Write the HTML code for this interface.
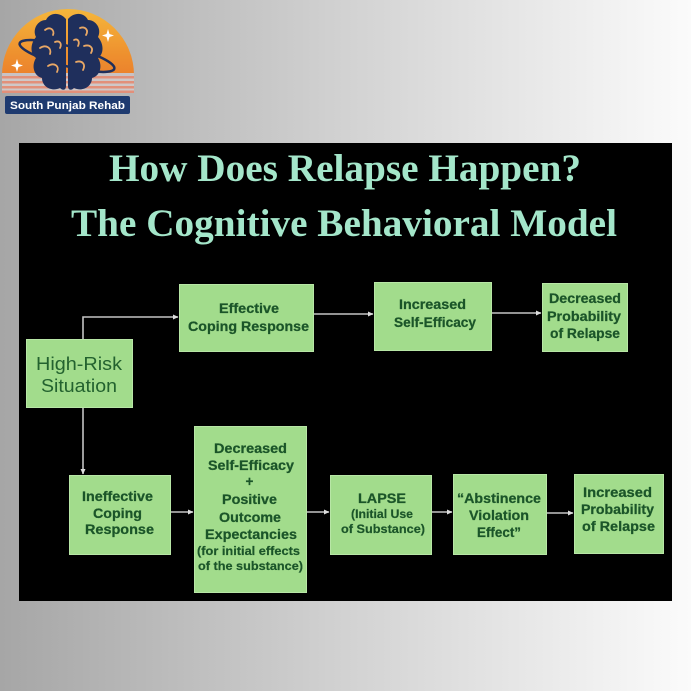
<!DOCTYPE html>
<html>
<head>
<meta charset="utf-8">
<style>
  html,body{margin:0;padding:0;width:691px;height:691px;overflow:hidden;}
  svg{display:block;}
  .t{font-family:"Liberation Serif",serif;font-weight:bold;fill:#a4e6ca;font-size:39px;}
  .b{font-family:"Liberation Sans",sans-serif;font-weight:bold;fill:#1b5529;stroke:#1b5529;stroke-width:0.25;font-size:13.5px;text-anchor:middle;}
  .s{font-family:"Liberation Sans",sans-serif;font-weight:bold;fill:#1b5529;stroke:#1b5529;stroke-width:0.2;font-size:12px;text-anchor:middle;}
  .r{font-family:"Liberation Sans",sans-serif;fill:#23622f;font-size:18.5px;text-anchor:middle;}
  .box{fill:#a2dc8c;stroke:#b8e6a6;stroke-width:1;}
  .ln{stroke:#c4c4c4;stroke-width:1.6;fill:none;}
</style>
</head>
<body>
<svg width="691" height="691" viewBox="0 0 691 691" xmlns="http://www.w3.org/2000/svg">
  <defs>
    <linearGradient id="bg" x1="0" y1="0" x2="1" y2="0">
      <stop offset="0" stop-color="#a6a6a6"/>
      <stop offset="0.5" stop-color="#d2d2d2"/>
      <stop offset="1" stop-color="#fbfbfb"/>
    </linearGradient>
    <linearGradient id="dome" x1="0" y1="0" x2="0" y2="1">
      <stop offset="0" stop-color="#f6be3e"/>
      <stop offset="0.6" stop-color="#ee8f2e"/>
      <stop offset="1" stop-color="#e8752c"/>
    </linearGradient>
    <clipPath id="domeclip">
      <path d="M2,93 L2,75 A66,66 0 0 1 134,75 L134,93 Z"/>
    </clipPath>
    <marker id="ah" markerWidth="6" markerHeight="6" refX="5" refY="3" orient="auto" markerUnits="userSpaceOnUse">
      <path d="M0,0.5 L5.5,3 L0,5.5 Z" fill="#dcdcdc"/>
    </marker>
  </defs>

  <rect x="0" y="0" width="691" height="691" fill="url(#bg)"/>

  <!-- Logo -->
  <g clip-path="url(#domeclip)">
    <rect x="0" y="0" width="140" height="93" fill="url(#dome)"/>
    <rect x="0" y="73" width="140" height="3" fill="#c9c2c4"/>
    <rect x="0" y="76" width="140" height="2.5" fill="#e2907a"/>
    <rect x="0" y="78.5" width="140" height="2.5" fill="#cfc8c8"/>
    <rect x="0" y="81" width="140" height="2.5" fill="#e2907a"/>
    <rect x="0" y="83.5" width="140" height="2.5" fill="#cfc8c8"/>
    <rect x="0" y="86" width="140" height="2.5" fill="#e2907a"/>
    <rect x="0" y="88.5" width="140" height="2" fill="#cfc8c8"/>
    <rect x="0" y="90.5" width="140" height="2.5" fill="#e2907a"/>
  </g>
  <ellipse cx="67" cy="56" rx="49" ry="10" transform="rotate(15 67 56)" fill="none" stroke="#1f2f5c" stroke-width="2.5"/>
  <path d="M66,19 C60,12 50,12 46,20 C38,20 32,29 36,37 C30,44 30,54 36,58 C31,66 34,76 42,78 C42,87 52,92 60,88 C63,91 66,90 66,86 Z" fill="#1f2f5c"/>
  <path d="M68,19 C74,12 84,12 88,20 C96,20 102,29 98,37 C104,44 104,54 98,58 C103,66 100,76 92,78 C92,87 82,92 74,88 C71,91 68,90 68,86 Z" fill="#1f2f5c"/>
  <g fill="none" stroke="#e9a866" stroke-width="1.8" stroke-linecap="round">
    <path d="M45,30 C50,26 55,30 53,35"/>
    <path d="M40,48 C46,44 52,48 50,54"/>
    <path d="M48,66 C54,62 60,66 57,72"/>
    <path d="M55,42 C60,40 62,44 60,48"/>
    <path d="M80,28 C85,26 89,30 86,35"/>
    <path d="M84,46 C90,44 94,48 91,53"/>
    <path d="M76,62 C82,60 86,64 83,70"/>
    <path d="M74,40 C78,38 80,42 78,46"/>
  </g>
  <path d="M108,29 L109.5,34 L114,35.5 L109.5,37 L108,42 L106.5,37 L102,35.5 L106.5,34 Z" fill="#ffffff"/>
  <path d="M17,59 L18.5,64 L23,65.5 L18.5,67 L17,72 L15.5,67 L11,65.5 L15.5,64 Z" fill="#ffffff"/>
  <rect x="5" y="96" width="125" height="18" rx="2" fill="#1f3b70"/>
  <text x="67.5" y="109" text-anchor="middle" font-family="Liberation Sans, sans-serif" font-weight="bold" font-size="11" fill="#ffffff" textLength="115" lengthAdjust="spacingAndGlyphs">South Punjab Rehab</text>

  <!-- Panel -->
  <rect x="19" y="143" width="653" height="458" fill="#000"/>

  <text class="t" x="345" y="181" text-anchor="middle" textLength="472" lengthAdjust="spacingAndGlyphs">How Does Relapse Happen?</text>
  <text class="t" x="344" y="236" text-anchor="middle" textLength="546" lengthAdjust="spacingAndGlyphs">The Cognitive Behavioral Model</text>

  <!-- Connectors -->
  <path class="ln" d="M83,339 L83,317 L178,317" marker-end="url(#ah)"/>
  <path class="ln" d="M314,314 L373,314" marker-end="url(#ah)"/>
  <path class="ln" d="M492,313 L541,313" marker-end="url(#ah)"/>
  <path class="ln" d="M83,408 L83,474" marker-end="url(#ah)"/>
  <path class="ln" d="M171,512 L193,512" marker-end="url(#ah)"/>
  <path class="ln" d="M307,512 L329,512" marker-end="url(#ah)"/>
  <path class="ln" d="M432,512 L452,512" marker-end="url(#ah)"/>
  <path class="ln" d="M547,513 L573,513" marker-end="url(#ah)"/>

  <!-- Boxes -->
  <rect class="box" x="179.5" y="284.5" width="134" height="67"/>
  <rect class="box" x="374.5" y="282.5" width="117" height="68"/>
  <rect class="box" x="542.5" y="283.5" width="85" height="68"/>
  <rect class="box" x="26.5" y="339.5" width="106" height="68"/>
  <rect class="box" x="69.5" y="475.5" width="101" height="79"/>
  <rect class="box" x="194.5" y="426.5" width="112" height="166"/>
  <rect class="box" x="330.5" y="475.5" width="101" height="79"/>
  <rect class="box" x="453.5" y="474.5" width="93" height="80"/>
  <rect class="box" x="574.5" y="474.5" width="89" height="79"/>

  <!-- Box text -->
  <text class="b" x="249" y="313" textLength="60" lengthAdjust="spacingAndGlyphs">Effective</text>
  <text class="b" x="248.5" y="331" textLength="121" lengthAdjust="spacingAndGlyphs">Coping Response</text>

  <text class="b" x="432.5" y="309" textLength="67" lengthAdjust="spacingAndGlyphs">Increased</text>
  <text class="b" x="435" y="327" textLength="82" lengthAdjust="spacingAndGlyphs">Self-Efficacy</text>

  <text class="b" x="585" y="303" textLength="72" lengthAdjust="spacingAndGlyphs">Decreased</text>
  <text class="b" x="584" y="321" textLength="74" lengthAdjust="spacingAndGlyphs">Probability</text>
  <text class="b" x="585" y="338" textLength="70" lengthAdjust="spacingAndGlyphs">of Relapse</text>

  <text class="r" x="79" y="370" textLength="86" lengthAdjust="spacingAndGlyphs">High-Risk</text>
  <text class="r" x="79" y="392" textLength="76" lengthAdjust="spacingAndGlyphs">Situation</text>

  <text class="b" x="117.5" y="501" textLength="71" lengthAdjust="spacingAndGlyphs">Ineffective</text>
  <text class="b" x="117.5" y="518" textLength="49" lengthAdjust="spacingAndGlyphs">Coping</text>
  <text class="b" x="119.5" y="534" textLength="69" lengthAdjust="spacingAndGlyphs">Response</text>

  <text class="b" x="250.5" y="453" textLength="73" lengthAdjust="spacingAndGlyphs">Decreased</text>
  <text class="b" x="251" y="470" textLength="86" lengthAdjust="spacingAndGlyphs">Self-Efficacy</text>
  <text class="b" x="249.5" y="486">+</text>
  <text class="b" x="249.5" y="504" textLength="55" lengthAdjust="spacingAndGlyphs">Positive</text>
  <text class="b" x="250" y="522" textLength="62" lengthAdjust="spacingAndGlyphs">Outcome</text>
  <text class="b" x="251" y="539" textLength="92" lengthAdjust="spacingAndGlyphs">Expectancies</text>
  <text class="s" x="248.5" y="555" textLength="103" lengthAdjust="spacingAndGlyphs">(for initial effects</text>
  <text class="s" x="250.5" y="570" textLength="105" lengthAdjust="spacingAndGlyphs">of the substance)</text>

  <text class="b" x="382" y="503" textLength="48" lengthAdjust="spacingAndGlyphs">LAPSE</text>
  <text class="s" x="382" y="518" textLength="62" lengthAdjust="spacingAndGlyphs">(Initial Use</text>
  <text class="s" x="383" y="533" textLength="84" lengthAdjust="spacingAndGlyphs">of Substance)</text>

  <text class="b" x="499" y="503" textLength="84" lengthAdjust="spacingAndGlyphs">“Abstinence</text>
  <text class="b" x="499" y="520" textLength="60" lengthAdjust="spacingAndGlyphs">Violation</text>
  <text class="b" x="499" y="537" textLength="44" lengthAdjust="spacingAndGlyphs">Effect”</text>

  <text class="b" x="617.5" y="497" textLength="69" lengthAdjust="spacingAndGlyphs">Increased</text>
  <text class="b" x="617.5" y="514" textLength="73" lengthAdjust="spacingAndGlyphs">Probability</text>
  <text class="b" x="618.5" y="531" textLength="73" lengthAdjust="spacingAndGlyphs">of Relapse</text>
</svg>
</body>
</html>
